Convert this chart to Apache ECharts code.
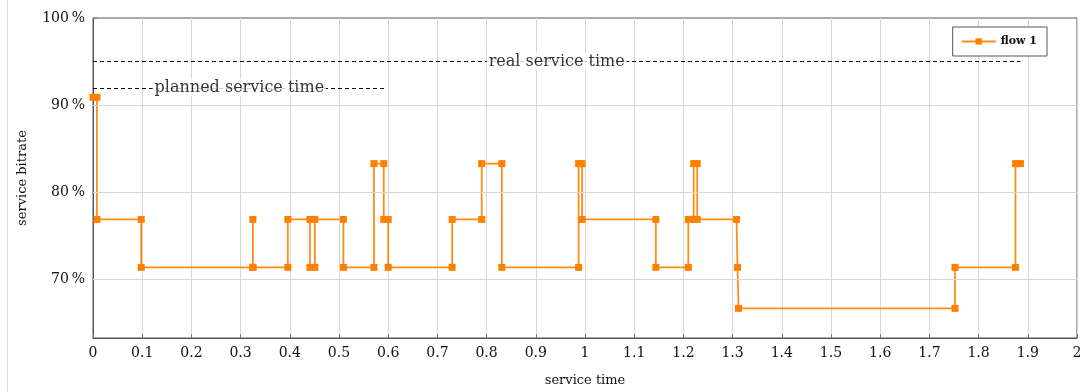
<!DOCTYPE html>
<html>
<head>
<meta charset="utf-8">
<script src="https://cdn.jsdelivr.net/npm/echarts@6/dist/echarts.min.js"></script>
<style>
html,body{margin:0;padding:0;background:#fff;}
#chart{width:1085px;height:392px;}
</style>
</head>
<body>
<div id="chart"></div>
<script>
// service time (x) and service bitrate in % (y) of flow 1
const serviceTime = [0, 0.008, 0.008, 0.098, 0.098, 0.325, 0.325, 0.325, 0.396, 0.396,
  0.441, 0.441, 0.451, 0.451, 0.509, 0.509, 0.571, 0.571, 0.591, 0.591,
  0.600, 0.600, 0.730, 0.730, 0.790, 0.790, 0.831, 0.831, 0.987, 0.987,
  0.994, 0.994, 1.144, 1.144, 1.210, 1.210, 1.221, 1.221, 1.228, 1.228,
  1.308, 1.310, 1.312, 1.752, 1.752, 1.875, 1.875, 1.885];
const serviceBitrate = [90.9, 90.9, 76.9, 76.9, 71.4, 71.4, 76.9, 71.4, 71.4, 76.9,
  76.9, 71.4, 71.4, 76.9, 76.9, 71.4, 71.4, 83.3, 83.3, 76.9,
  76.9, 71.4, 71.4, 76.9, 76.9, 83.3, 83.3, 71.4, 71.4, 83.3,
  83.3, 76.9, 76.9, 71.4, 71.4, 76.9, 76.9, 83.3, 83.3, 76.9,
  76.9, 71.4, 66.7, 66.7, 71.4, 71.4, 83.3, 83.3];
const yTickValues = [70, 80, 90, 100];
const plannedServiceTime = 0.595;
const plannedLevel = 92;
const realServiceTime = 1.885;
const realLevel = 95;
const markerNames = ['real service time', 'planned service time'];

const seriesData = serviceTime.map((t, i) => [t, serviceBitrate[i]]);
const serif = '"DejaVu Serif", "Liberation Serif", serif';

const chart = echarts.init(document.getElementById('chart'), null, {renderer: 'canvas'});
chart.setOption({
  animation: false,
  backgroundColor: '#fff',
  graphic: [{
    type: 'line', shape: {x1: 7.5, y1: 0, x2: 7.5, y2: 392},
    style: {stroke: '#dddddd', lineWidth: 1}, silent: true
  }],
  grid: {left: 93, right: 8, top: 18, bottom: 49, show: true, borderColor: '#555', borderWidth: 1, backgroundColor: 'transparent'},
  legend: {
    right: 38, top: 27, orient: 'vertical',
    backgroundColor: '#fff', borderColor: '#555', borderWidth: 1, borderRadius: 0,
    padding: [9, 10, 9, 8], itemWidth: 34, itemHeight: 8, itemGap: 4,
    textStyle: {fontFamily: serif, fontSize: 11, fontWeight: 'bold', color: '#111'},
    data: ['flow 1']
  },
  xAxis: {
    type: 'value', min: 0, max: 2, interval: 0.1,
    name: 'service time', nameLocation: 'middle', nameGap: 36,
    nameTextStyle: {fontFamily: serif, fontSize: 13, color: '#111'},
    axisLine: {show: true, onZero: false, lineStyle: {color: '#555', width: 1}},
    axisTick: {show: true, inside: true, length: 4, lineStyle: {color: '#777'}},
    axisLabel: {fontFamily: serif, fontSize: 14, color: '#111', margin: 8,
      formatter: (v) => String(Math.round(v * 10) / 10)},
    splitLine: {show: true, lineStyle: {color: '#d6d6d6', width: 1}}
  },
  yAxis: {
    type: 'value', min: 63.3, max: 100,
    name: 'service bitrate', nameLocation: 'middle', nameGap: 64,
    nameTextStyle: {fontFamily: serif, fontSize: 13, color: '#111'},
    axisLine: {show: true, lineStyle: {color: '#555', width: 1}},
    axisTick: {show: true, inside: true, length: 4, customValues: yTickValues, lineStyle: {color: '#777'}},
    axisLabel: {fontFamily: serif, fontSize: 14, color: '#111', margin: 8, customValues: yTickValues,
      formatter: (v) => v + '\u2009%'},
    splitLine: {show: false}
  },
  series: [{
    name: 'grid-h', type: 'line', data: [], silent: true,
    markLine: {
      silent: true, symbol: 'none', label: {show: false},
      lineStyle: {color: '#d6d6d6', type: 'solid', width: 1},
      data: yTickValues.filter(v => v < 100).map(v => ({yAxis: v}))
    }
  }, {
    name: 'flow 1', type: 'line', data: seriesData,
    showSymbol: true, symbol: 'rect', symbolSize: 7,
    itemStyle: {color: '#ff8000'},
    lineStyle: {color: '#ff8c1a', width: 1.8},
    z: 3,
    markLine: {
      silent: true, symbol: 'none', animation: false, label: {show: false},
      lineStyle: {color: '#000', type: [4, 3], width: 1},
      data: [
        [{coord: [0, realLevel]}, {coord: [realServiceTime, realLevel]}],
        [{coord: [0, plannedLevel]}, {coord: [plannedServiceTime, plannedLevel]}]
      ]
    }
  }, {
    name: 'labels', type: 'scatter', silent: true, symbolSize: 1, zlevel: 1, z: 10,
    itemStyle: {color: 'rgba(0,0,0,0)'},
    data: [
      {value: [realServiceTime / 2, realLevel], name: markerNames[0]},
      {value: [plannedServiceTime / 2, plannedLevel], name: markerNames[1]}
    ],
    label: {
      show: true, position: 'inside', formatter: (p) => p.name,
      fontFamily: serif, fontSize: 16, color: '#000', textBorderWidth: 0,
      backgroundColor: '#ffffff', padding: [1, 2]
    },
    labelLayout: {hideOverlap: false}
  }]
});
</script>
</body>
</html>
